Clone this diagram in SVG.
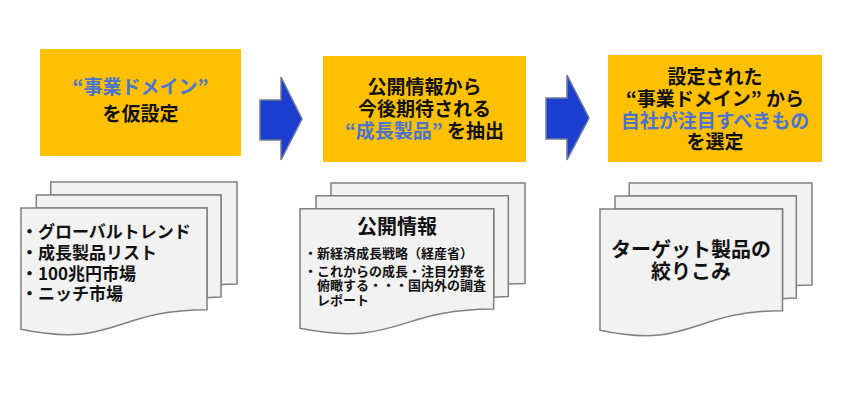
<svg xmlns="http://www.w3.org/2000/svg" width="850" height="404" viewBox="0 0 850 404">
<style>
.box{fill:#FFC000;}
.arrow{fill:#1B3ECF;stroke:#6E7C98;stroke-width:1.5;stroke-linejoin:miter;}
.doc{fill:#F2F2F2;stroke:#808080;stroke-width:1.5;stroke-linejoin:miter;}
text{font-family:"Noto Sans CJK JP","Noto Sans CJK SC",sans-serif;font-weight:bold;fill:#111111;dominant-baseline:central;}
.t19{font-size:19px;text-anchor:middle;}
.blue{fill:#4A74D0;}
.t17{font-size:17px;}
.t13{font-size:13px;}
.t20{font-size:20px;text-anchor:middle;}
</style>
<rect width="850" height="404" fill="#FFFFFF"/>

<g id="box1">
<rect class="box" x="40" y="49" width="201" height="107"/>
<text class="t19 blue" x="140.5" y="85">“事業ドメイン”</text>
<text class="t19" x="140.5" y="112">を仮設定</text>
</g>

<g id="box2">
<rect class="box" x="323" y="56" width="203" height="106"/>
<text class="t19" x="424.5" y="85">公開情報から</text>
<text class="t19" x="424.5" y="107">今後期待される</text>
<text class="t19" x="424.5" y="129"><tspan class="blue">“成長製品”</tspan> を抽出</text>
</g>

<g id="box3">
<rect class="box" x="608" y="55" width="214" height="107"/>
<text class="t19" x="715" y="75">設定された</text>
<text class="t19" x="715" y="97">“事業ドメイン” から</text>
<text class="t19 blue" x="715" y="119">自社が注目すべきもの</text>
<text class="t19" x="715" y="140">を選定</text>
</g>

<g id="connectors">
<path class="arrow" d="M260,100 L281,100 L281,77 L302,119 L281,160 L281,140 L260,140 Z"/>
<path class="arrow" d="M546,98 L567,98 L567,75 L589,118 L567,160 L567,139 L546,139 Z"/>
</g>

<g id="doc1">
<path class="doc" d="M50.7,194.9 L50.7,182 L237,182 L237,283.9 C229,283.9 221,284.5 221,284.5 L221,194.9 Z"/>
<path class="doc" d="M36.3,208 L36.3,194.9 L221,194.9 L221,297.1 C214,297.1 207,297.8 207,297.8 L207,208 Z"/>
<path class="doc" d="M21,329.2 C114,348.8 114,309.7 207,309.7 L207,208 L21,208 Z"/>
<text class="t17" x="21" y="230">・グローバルトレンド</text>
<text class="t17" x="21" y="251">・成長製品リスト</text>
<text class="t17" x="21" y="272">・100兆円市場</text>
<text class="t17" x="21" y="292">・ニッチ市場</text>
</g>

<g id="doc2">
<path class="doc" d="M331,195.7 L331,183 L525,183 L525,283.6 C516.7,283.6 508.3,284.1 508.3,284.1 L508.3,195.7 Z"/>
<path class="doc" d="M316,208.7 L316,195.7 L508.3,195.7 L508.3,296.6 C501,296.6 493.7,297.3 493.7,297.3 L493.7,208.7 Z"/>
<path class="doc" d="M300,328.3 C396.9,347.6 396.9,309 493.7,309 L493.7,208.7 L300,208.7 Z"/>
<text class="t20" x="397" y="225">公開情報</text>
<text class="t13" x="304" y="252">・新経済成長戦略（経産省）</text>
<text class="t13" x="304" y="270">・これからの成長・注目分野を</text>
<text class="t13" x="317" y="284">俯瞰する・・・国内外の調査</text>
<text class="t13" x="317" y="299">レポート</text>
</g>

<g id="doc3">
<path class="doc" d="M629.2,195.9 L629.2,183 L812,183 L812,284.9 C804.1,284.9 796.3,285.5 796.3,285.5 L796.3,195.9 Z"/>
<path class="doc" d="M615,209 L615,195.9 L796.3,195.9 L796.3,298.1 C789.4,298.1 782.5,298.8 782.5,298.8 L782.5,209 Z"/>
<path class="doc" d="M600,330.2 C691.3,349.8 691.3,310.7 782.5,310.7 L782.5,209 L600,209 Z"/>
<text class="t20" x="691" y="248">ターゲット製品の</text>
<text class="t20" x="691" y="270">絞りこみ</text>
</g>
</svg>
